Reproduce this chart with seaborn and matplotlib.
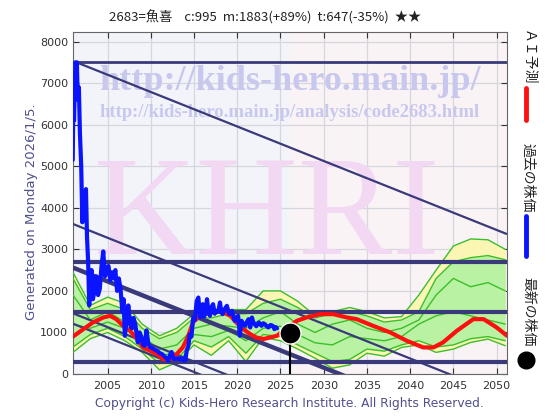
import numpy as np
import pandas as pd
import matplotlib
matplotlib.use('Agg')
import matplotlib.pyplot as plt
import seaborn as sns

# past stock price (blue)
past_years = [2000.97, 2001.05, 2001.12, 2001.2, 2001.28, 2001.45, 2001.55, 2001.68, 2001.8, 2001.95,
              2002.08, 2002.2, 2002.35, 2002.5, 2002.62, 2002.75, 2002.88, 2003.0, 2003.15, 2003.3,
              2003.5, 2003.7, 2003.9, 2004.1, 2004.3, 2004.5, 2004.7, 2004.9, 2005.1, 2005.3,
              2005.5, 2005.7, 2005.9, 2006.1, 2006.3, 2006.5, 2006.7, 2006.85, 2007.0, 2007.2,
              2007.4, 2007.6, 2007.8, 2008.0, 2008.2, 2008.5, 2008.7, 2008.9, 2009.1, 2009.3,
              2009.5, 2009.7, 2009.9, 2010.2, 2010.5, 2010.8, 2011.05, 2011.3, 2011.6, 2011.8,
              2012.0, 2012.2, 2012.4, 2012.6, 2012.8, 2013.1, 2013.4, 2013.6, 2013.8, 2014.0,
              2014.15, 2014.35, 2014.5, 2014.7, 2014.9, 2015.1, 2015.3, 2015.5, 2015.7, 2015.85,
              2016.0, 2016.15, 2016.3, 2016.5, 2016.7, 2016.85, 2017.0, 2017.2, 2017.4, 2017.6,
              2017.8, 2018.0, 2018.15, 2018.3, 2018.5, 2018.8, 2019.0, 2019.1, 2019.4, 2019.7,
              2019.9, 2020.1, 2020.3, 2020.5, 2020.7, 2020.9, 2021.1, 2021.3, 2021.5, 2021.7,
              2021.85, 2022.0, 2022.2, 2022.5, 2022.8, 2023.0, 2023.2, 2023.4, 2023.6, 2023.85,
              2024.1, 2024.3, 2024.45, 2024.6]
past_price = [5150, 6750, 6100, 6800, 7500, 7500, 6600, 6900, 5800, 5000,
              3650, 4400, 3900, 4450, 3300, 2700, 1650, 2300, 2500, 1800,
              2000, 2350, 1900, 2050, 2600, 2950, 2350, 2500, 2600, 2250,
              2450, 2300, 2500, 2000, 2300, 2050, 1500, 1800, 920, 1300,
              1650, 1200, 1100, 1350, 1200, 760, 1000, 900, 700, 680,
              1050, 750, 650, 620, 580, 550, 500, 480, 420, 380,
              320, 450, 530, 380, 360, 380, 350, 380, 320, 330,
              560, 680, 950, 900, 1350, 1300, 1750, 1840, 1360, 1500,
              1680, 1380, 1450, 1800, 1450, 1400, 1600, 1680, 1450, 1520,
              1500, 1720, 1500, 1440, 1550, 1640, 1480, 1440, 1520, 1280,
              1350, 1400, 920, 1280, 1200, 1160, 1250, 1320, 1120, 1360,
              1250, 1200, 1150, 1240, 1160, 1220, 1200, 1150, 1120, 1180,
              1160, 1080, 1130, 1100]

# AI prediction (red)
ai_years = [2001.0, 2002.2, 2003.3, 2004.5, 2005.3, 2006.0, 2006.8, 2007.6, 2008.4, 2009.1,
            2009.9, 2010.7, 2011.4, 2012.2, 2013.0, 2013.7, 2014.3, 2014.9, 2015.7, 2016.8,
            2018.0, 2019.2, 2019.9, 2020.7, 2021.5, 2022.2, 2023.0, 2023.8, 2024.6, 2025.7,
            2026.9, 2028.0, 2029.6, 2031.1, 2032.7, 2033.8, 2035.7, 2037.7, 2039.6, 2041.5,
            2042.7, 2043.8, 2045.4, 2047.3, 2048.5, 2050.0, 2051.2]
ai_price = [900, 1080, 1240, 1360, 1400, 1320, 1160, 1040, 840, 640,
            560, 480, 360, 360, 480, 640, 900, 1250, 1400, 1480,
            1520, 1400, 1240, 1080, 960, 880, 840, 880, 920, 1100,
            1280, 1360, 1440, 1440, 1360, 1320, 1160, 1000, 800, 640,
            640, 760, 1040, 1320, 1320, 1120, 920]

# forecast band (green / yellow)
band_years = [2001, 2003, 2005, 2007, 2009, 2011, 2013, 2015, 2017, 2019, 2021, 2023, 2025,
              2027, 2029, 2031, 2033, 2035, 2037, 2039, 2041, 2043, 2045, 2047, 2049, 2051]
outer_upper = [2450, 1650, 1850, 1700, 1200, 920, 1100, 1450, 1450, 1550, 1550, 2000, 2000,
               1750, 1400, 1500, 1600, 1500, 1350, 1380, 1900, 2500, 3080, 3250, 3230, 3000]
outer_lower = [520, 850, 1000, 800, 520, 100, 280, 700, 450, 800, 300, 880, 800,
               600, 380, 140, 220, 500, 430, 640, 700, 520, 600, 760, 840, 680]
inner_upper = [2300, 1550, 1700, 1550, 1100, 850, 1000, 1350, 1350, 1450, 1450, 1700, 1800,
               1600, 1350, 1450, 1500, 1400, 1250, 1300, 1500, 2300, 2700, 2800, 2850, 2750]
inner_lower = [650, 950, 1100, 900, 600, 250, 350, 800, 650, 900, 500, 950, 900,
               700, 500, 300, 350, 600, 550, 700, 800, 650, 700, 850, 900, 800]
mid_a = [1900, 1300, 1500, 1250, 900, 600, 700, 1100, 1200, 1150, 1100, 1350, 1500,
         1200, 1000, 1200, 1300, 1100, 1000, 1100, 1300, 1900, 2300, 2100, 2200, 2000]
mid_b = [1200, 1100, 1250, 1100, 750, 450, 500, 950, 900, 1050, 800, 1100, 1150,
         950, 750, 700, 900, 850, 800, 900, 1200, 1400, 1500, 1400, 1300, 1200]

# support levels and falling channel lines (slope per year)
support_levels = [7500, 2700, 1500, 300]
support_widths = [2, 3, 3, 3]
channel_start_x = [2001.4, 2001.0, 2001.0, 2001.0, 2001.0]
channel_start_y = [7500, 3610, 2560, 1460, 1210]
channel_widths = [1.6, 1.6, 3.2, 1.6, 1.6]
channel_slope = -83

latest_year = 2026.1
latest_price = 995

title = '2683=魚喜    c:995  m:1883(+89%)  t:647(-35%)  ★★'
x_ticks = [2005, 2010, 2015, 2020, 2025, 2030, 2035, 2040, 2045, 2050]
y_ticks = [0, 1000, 2000, 3000, 4000, 5000, 6000, 7000, 8000]

sns.set_theme(style='white')
plt.rcParams['font.family'] = ['DejaVu Sans', 'Noto Sans CJK JP']
jp = ['Noto Sans CJK JP', 'DejaVu Sans']
navy = '#3a3a7a'
label_col = '#50508c'

fig = plt.figure(figsize=(5.6, 4.2), dpi=100, facecolor='white')
ax = fig.add_axes([73 / 560, 46 / 420, 434 / 560, 342 / 420])
ax.set_facecolor('#f2f4fa')
xmin, xmax = 2001.0, 2051.2
ax.axvspan(latest_year, xmax, color='#faf3f6', zorder=0, lw=0)

# watermarks
ax.text(0.5, 0.855, 'http://kids-hero.main.jp/', transform=ax.transAxes, ha='center', va='center',
        family='Liberation Serif', weight='bold', fontsize=26, color='#c8c8ee', zorder=1)
ax.text(0.5, 0.765, 'http://kids-hero.main.jp/analysis/code2683.html', transform=ax.transAxes,
        ha='center', va='center', family='Liberation Serif', weight='bold', fontsize=13.4,
        color='#c8c8ee', zorder=1)
ax.text(0.447, 0.45, 'KHRI', transform=ax.transAxes, ha='center', va='center',
        family='Liberation Serif', fontsize=102, color='#f2d8f2', zorder=1)

# forecast band
ax.fill_between(band_years, outer_lower, outer_upper, color='#fbf6b4', lw=0, zorder=2)
ax.fill_between(band_years, inner_lower, inner_upper, color='#b9f2a2', lw=0, zorder=2)
for s in [outer_upper, outer_lower, inner_upper, inner_lower, mid_a, mid_b]:
    sns.lineplot(x=band_years, y=s, ax=ax, color='#3cbf2a', lw=1, zorder=3)

# support / channel lines
for lvl, w in zip(support_levels, support_widths):
    ax.axhline(lvl, color=navy, lw=w, zorder=4)
for x0, y0, w in zip(channel_start_x, channel_start_y, channel_widths):
    ax.plot([x0, xmax], [y0, y0 + channel_slope * (xmax - x0)], color=navy, lw=w, zorder=4,
            solid_capstyle='butt')

# prices
past = pd.DataFrame({'year': past_years, 'price': past_price})
ai = pd.DataFrame({'year': ai_years, 'price': ai_price})
sns.lineplot(data=ai, x='year', y='price', ax=ax, color='#ff1010', lw=3, zorder=5)
sns.lineplot(data=past, x='year', y='price', ax=ax, color='#0a14ff', lw=3, zorder=6)
ax.plot([latest_year, latest_year], [0, latest_price], color='black', lw=1.5, zorder=7)
ax.scatter([latest_year], [latest_price], s=230, color='black', edgecolor='white', lw=1, zorder=8)

ax.set_xlim(xmin, xmax)
ax.set_ylim(0, 8230)
ax.set_xticks(x_ticks)
ax.set_yticks(y_ticks)
ax.grid(True, color='#d6d6de', lw=0.9, zorder=0)
ax.set_axisbelow(True)
ax.tick_params(direction='in', length=4, width=0.8, colors='#333333', labelsize=8,
               top=True, right=True, bottom=True, left=True)
ax.tick_params(axis='x', pad=5)
for sp in ax.spines.values():
    sp.set_color('#666666')
    sp.set_linewidth(0.8)
ax.set_xlabel('')
ax.set_ylabel('')

# texts around the plot
fig.text(265 / 560, 1 - 17 / 420, title, ha='center', va='center', fontsize=9.5, family=jp,
         color='#222222')
fig.text(32 / 560, 1 - 212 / 420, 'Generated on Monday 2026/1/5.', rotation=90, ha='center',
         va='center', fontsize=9.5, color=label_col)
fig.text(289 / 560, 1 - 403 / 420, 'Copyright (c) Kids-Hero Research Institute. All Rights Reserved.',
         ha='center', va='center', fontsize=8.8, color=label_col)

# right-side legend
lx = 528 / 560
fig.text(lx, 1 - 58 / 420, 'ＡＩ予測', rotation=270, ha='center', va='center', fontsize=10,
         family=jp, color='#222222')
fig.add_artist(plt.Line2D([lx - 0.004, lx - 0.004], [1 - 88 / 420, 1 - 120 / 420], color='#ff1010',
                          lw=3.5, transform=fig.transFigure))
fig.text(lx, 1 - 178 / 420, '過去の株価', rotation=270, ha='center', va='center', fontsize=10,
         family=jp, color='#222222')
fig.add_artist(plt.Line2D([lx - 0.004, lx - 0.004], [1 - 216 / 420, 1 - 256 / 420], color='#0a14ff',
                          lw=3.5, transform=fig.transFigure))
fig.text(lx, 1 - 312 / 420, '最新の株価', rotation=270, ha='center', va='center', fontsize=10,
         family=jp, color='#222222')
fig.add_artist(plt.Line2D([lx - 0.004], [1 - 360 / 420], marker='o', markersize=12,
                          color='black', transform=fig.transFigure))

fig.savefig('out.png', dpi=100, facecolor='white')
